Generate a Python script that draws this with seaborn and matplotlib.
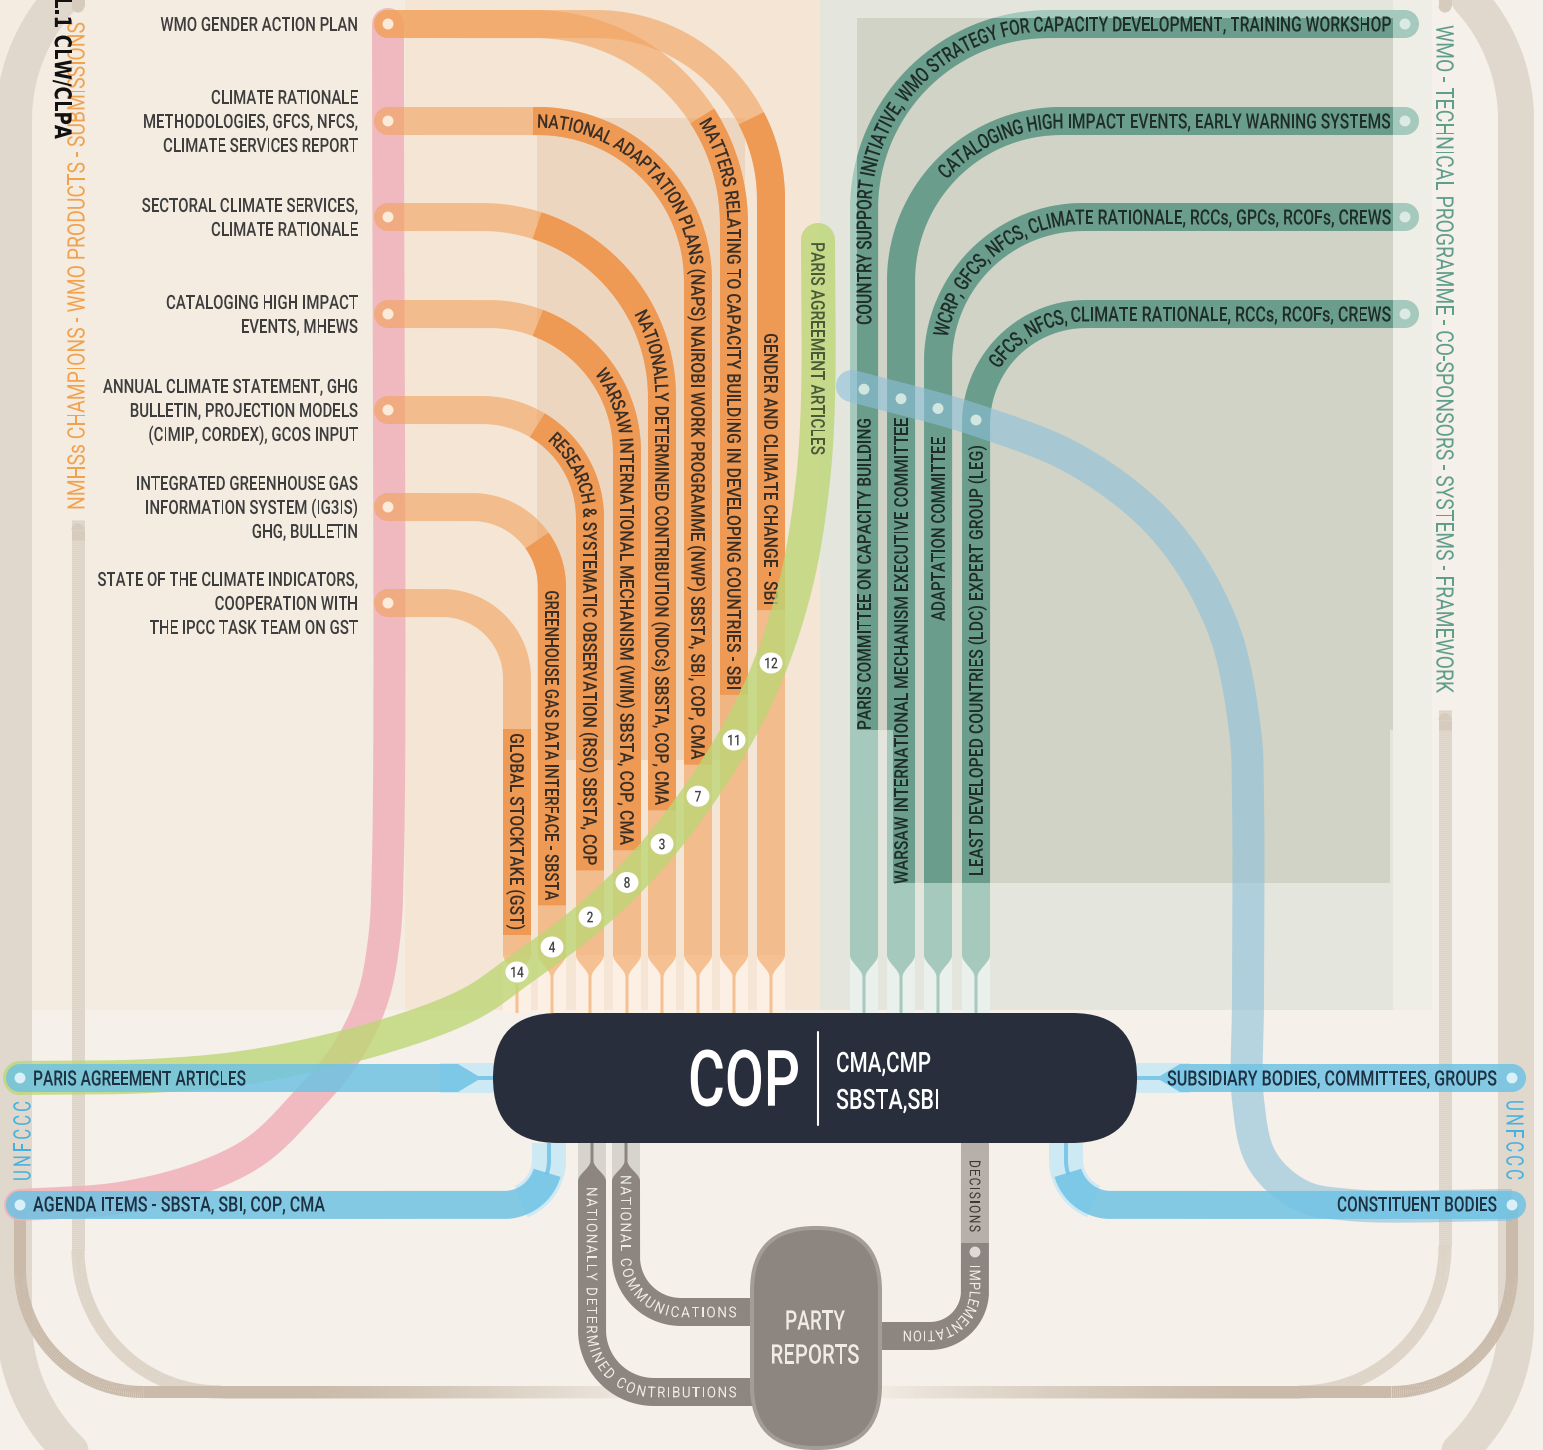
import numpy as np
import pandas as pd
import seaborn as sns
import matplotlib
matplotlib.use("Agg")
import matplotlib.pyplot as plt
from matplotlib.textpath import TextPath
from matplotlib.font_manager import FontProperties, findfont, get_font
from matplotlib.patches import PathPatch, Rectangle, FancyBboxPatch, Ellipse, Polygon, Wedge
from matplotlib.path import Path
from matplotlib.transforms import Affine2D
from matplotlib.collections import LineCollection
from matplotlib.colors import to_rgba

# ---------------- chart content ----------------
wmo_products = [
    "WMO GENDER ACTION PLAN",
    "CLIMATE RATIONALE\nMETHODOLOGIES, GFCS, NFCS,\nCLIMATE SERVICES REPORT",
    "SECTORAL CLIMATE SERVICES,\nCLIMATE RATIONALE",
    "CATALOGING HIGH IMPACT\nEVENTS, MHEWS",
    "ANNUAL CLIMATE STATEMENT, GHG\nBULLETIN, PROJECTION MODELS\n(CIMIP, CORDEX), GCOS INPUT",
    "INTEGRATED GREENHOUSE GAS\nINFORMATION SYSTEM (IG3IS)\nGHG, BULLETIN",
    "STATE OF THE CLIMATE INDICATORS,\nCOOPERATION WITH\nTHE IPCC TASK TEAM ON GST",
]
agenda_items = [
    "GLOBAL STOCKTAKE (GST)",
    "GREENHOUSE GAS DATA INTERFACE - SBSTA",
    "RESEARCH & SYSTEMATIC OBSERVATION (RSO) SBSTA, COP",
    "WARSAW INTERNATIONAL MECHANISM (WIM) SBSTA, COP, CMA",
    "NATIONALLY DETERMINED CONTRIBUTION (NDCs) SBSTA, COP, CMA",
    "NATIONAL ADAPTATION PLANS (NAPS) NAIROBI WORK PROGRAMME (NWP) SBSTA, SBI, COP, CMA",
    "MATTERS RELATING TO CAPACITY BUILDING IN DEVELOPING COUNTRIES - SBI",
    "GENDER AND CLIMATE CHANGE - SBI",
]
paris_articles = ["14", "4", "2", "8", "3", "7", "11", "12"]
agenda_source = [6, 5, 4, 3, 2, 1, 0, 0]   # which WMO product feeds each agenda item
tech_programmes = [
    "COUNTRY SUPPORT INITIATIVE, WMO STRATEGY FOR CAPACITY DEVELOPMENT, TRAINING WORKSHOP",
    "CATALOGING HIGH IMPACT EVENTS, EARLY WARNING SYSTEMS",
    "WCRP, GFCS, NFCS, CLIMATE RATIONALE, RCCs, GPCs, RCOFs, CREWS",
    "GFCS, NFCS, CLIMATE RATIONALE, RCCs, RCOFs, CREWS",
]
constituent_bodies = [
    "PARIS COMMITTEE ON CAPACITY BUILDING",
    "WARSAW INTERNATIONAL MECHANISM EXECUTIVE COMMITTEE",
    "ADAPTATION COMMITTEE",
    "LEAST DEVELOPED COUNTRIES (LDC) EXPERT GROUP (LEG)",
]
unfccc_links = ["PARIS AGREEMENT ARTICLES", "AGENDA ITEMS - SBSTA, SBI, COP, CMA",
                "SUBSIDIARY BODIES, COMMITTEES, GROUPS", "CONSTITUENT BODIES"]
cop_title = "COP"
cop_bodies = ["CMA,CMP", "SBSTA,SBI"]
party_title = ["PARTY", "REPORTS"]
party_flows = ["NATIONALLY DETERMINED CONTRIBUTIONS", "NATIONAL COMMUNICATIONS",
               "DECISIONS", "IMPLEMENTATION"]
side_titles = ["NMHSs CHAMPIONS - WMO PRODUCTS - SUBMISSIONS",
               "WMO - TECHNICAL PROGRAMME - CO-SPONSORS - SYSTEMS - FRAMEWORK",
               "UNFCCC", "L.1 CLW/CLPA"]

# ---------------- layout (pixels) ----------------
W, H = 1543, 1450
PT = 72 / 100          # points per pixel at dpi 100
SRC_X = 388
SRC_Y = [24, 121, 217, 314, 410, 507, 603]
COL_X = [517, 552, 590, 627, 662, 698, 734, 771]
COL_R = [75, 80, 108, 138, 180, 160, 200, 175]
LBL_START = [(517, 733), (552, 590), (552, 436), (600, 370), (647, 307), (537, 118),
             (703, 120), (771, 333)]
LBL_END = [930, 900, 865, 845, 805, 760, 690, 605]
TEAL_X = [864, 901, 938, 976]
TEAL_Y = [24, 121, 217, 314]
TEAL_R = [185, 160, 145, 110]
TEAL_START = [(867, 325), (949, 182), (943, 337), (1003, 372)]
TEAL_LBL = [(730, 418), (884, 418), (621, 437), (876, 445)]
BAND_END = 955
COP_TOP, COP_BOT = 1013, 1143

ORANGE, ORANGE_DK = "#f2a25c", "#ee9a55"
TEAL_LT, TEAL_DK = "#a6c9bd", "#6b9d8c"
BLUE, BLUE_LT = "#6fc3e4", "#cde9f4"
GRAY, GRAY_LT = "#8d8680", "#d7d3cd"

sns.set_theme(style="white")
FP_MED = FontProperties(family=["Roboto", "DejaVu Sans"], weight="medium")
FP_REG = FontProperties(family=["Roboto", "DejaVu Sans"], weight="regular")
FP_BLK = FontProperties(family=["DejaVu Sans", "Roboto"], weight="bold")
CAPC = 0.355

fig = plt.figure(figsize=(W / 100, H / 100), dpi=100)
fig.patch.set_facecolor("#f5f0e9")
ax = fig.add_axes([0, 0, 1, 1])
ax.set_facecolor("#f5f0e9")


# ---------------- helpers ----------------
def elbow_h(x0, y0, x1, y1, r, n=60):
    sx_, sy_ = np.sign(x1 - x0), np.sign(y1 - y0)
    cx, cy = x1 - sx_ * r, y0 + sy_ * r
    t = np.linspace(0, np.pi / 2, n)
    arc = np.column_stack([cx + sx_ * r * np.sin(t), cy - sy_ * r * np.cos(t)])
    return np.vstack([[x0, y0], arc, [x1, y1]])


def elbow_v(x0, y0, x1, y1, r, n=60):
    sx_, sy_ = np.sign(x1 - x0), np.sign(y1 - y0)
    cx, cy = x0 + sx_ * r, y1 - sy_ * r
    t = np.linspace(0, np.pi / 2, n)
    arc = np.column_stack([cx - sx_ * r * np.cos(t), cy + sy_ * r * np.sin(t)])
    return np.vstack([[x0, y0], arc, [x1, y1]])


def round_rect(x0, y0, x1, y1, r, n=60):
    def arc(cx, cy, a0, a1):
        t = np.radians(np.linspace(a0, a1, n))
        return np.column_stack([cx + r * np.cos(t), cy + r * np.sin(t)])
    return np.vstack([arc(x0 + r, y1 - r, 180, 90), arc(x1 - r, y1 - r, 90, 0),
                      arc(x1 - r, y0 + r, 0, -90), arc(x0 + r, y0 + r, -90, -180),
                      [[x0, y1 - r]]])


def catmull(pts, n=24):
    P = np.array(pts, float)
    P = np.vstack([2 * P[0] - P[1], P, 2 * P[-1] - P[-2]])
    out = []
    for i in range(1, len(P) - 2):
        p0, p1, p2, p3 = P[i - 1:i + 3]
        t0 = 0
        t1 = t0 + np.linalg.norm(p1 - p0) ** 0.5
        t2 = t1 + np.linalg.norm(p2 - p1) ** 0.5
        t3 = t2 + np.linalg.norm(p3 - p2) ** 0.5
        t = np.linspace(t1, t2, n, endpoint=False)[:, None]
        A1 = (t1 - t) / (t1 - t0) * p0 + (t - t0) / (t1 - t0) * p1
        A2 = (t2 - t) / (t2 - t1) * p1 + (t - t1) / (t2 - t1) * p2
        A3 = (t3 - t) / (t3 - t2) * p2 + (t - t2) / (t3 - t2) * p3
        B1 = (t2 - t) / (t2 - t0) * A1 + (t - t0) / (t2 - t0) * A2
        B2 = (t3 - t) / (t3 - t1) * A2 + (t - t1) / (t3 - t1) * A3
        out.append((t2 - t) / (t2 - t1) * B1 + (t - t1) / (t2 - t1) * B2)
    out.append(P[-2][None])
    return np.vstack(out)


def arclen(p):
    return np.concatenate([[0], np.cumsum(np.hypot(*np.diff(p, axis=0).T))])


def dense(p, step=1.0):
    p = np.asarray(p, float)
    keep = np.r_[True, np.hypot(*np.diff(p, axis=0).T) > 1e-9]
    p = p[keep]
    s = arclen(p)
    ss = np.append(np.arange(0, s[-1], step), s[-1])
    return np.column_stack([np.interp(ss, s, p[:, 0]), np.interp(ss, s, p[:, 1])])


def s_near(p, pt):
    return arclen(p)[np.argmin(np.hypot(p[:, 0] - pt[0], p[:, 1] - pt[1]))]


def sub(p, s0, s1):
    s = arclen(p)
    m = (s > s0) & (s < s1)
    a = [np.interp(s0, s, p[:, 0]), np.interp(s0, s, p[:, 1])]
    b = [np.interp(s1, s, p[:, 0]), np.interp(s1, s, p[:, 1])]
    return np.vstack([a, p[m], b])


def band(p, color, w, alpha=1.0, z=3, caps=("butt", "butt"), clip=None):
    ln, = ax.plot(p[:, 0], p[:, 1], color=color, lw=w * PT, alpha=alpha, zorder=z,
                  solid_capstyle="butt", solid_joinstyle="round")
    if clip is not None:
        ln.set_clip_path(clip)
    for k, cap in enumerate(caps):
        if cap != "round":
            continue
        a, b = (p[0], p[2]) if k == 0 else (p[-1], p[-3])
        ang = np.degrees(np.arctan2(a[1] - b[1], a[0] - b[0]))
        wd = Wedge(a, w / 2, ang - 90, ang + 90, fc=color, ec="none", lw=0, alpha=alpha, zorder=z)
        if clip is not None:
            wd.set_clip_path(clip)
        ax.add_patch(wd)


def advances(text, fp):
    font = get_font(findfont(fp))
    font.set_size(100, 72)
    return np.array([font.load_char(ord(c)).linearHoriAdvance / 65536 / 100 for c in text])


def path_text(p, text, size, color, fp=FP_MED, start=None, end=None, sx=0.72,
              track=0.0, z=6, alpha=1.0):
    p = dense(p)
    s = arclen(p)
    a = advances(text, fp) * size
    n = len(text)
    if start is not None and end is not None:
        sx = (end - start - track * (n - 1)) / a.sum()
    total = a.sum() * sx + track * (n - 1)
    if start is None:
        start = end - total
    pos = start
    for ch, ai in zip(text, a):
        w = ai * sx
        c = pos + w / 2
        if ch != " ":
            x, y = np.interp(c, s, p[:, 0]), np.interp(c, s, p[:, 1])
            xa, ya = np.interp(c - 2, s, p[:, 0]), np.interp(c - 2, s, p[:, 1])
            xb, yb = np.interp(c + 2, s, p[:, 0]), np.interp(c + 2, s, p[:, 1])
            ang = np.arctan2(yb - ya, xb - xa)
            tp = TextPath((0, 0), ch, size=size, prop=fp)
            tr = (Affine2D().translate(-ai / 2, -CAPC * size).scale(sx, -1)
                  .rotate(ang).translate(x, y))
            ax.add_patch(PathPatch(tr.transform_path(tp), fc=color, ec="none", lw=0,
                                   zorder=z, alpha=alpha))
        pos += w + track
    return start, start + total


def stext(text, x, y, size, color, fp=FP_MED, ang=0, ha="left", sx=0.72, width=None,
          track=0.0, z=10):
    d = np.array([np.cos(np.radians(ang)), np.sin(np.radians(ang))])
    L = 1500.0
    p = np.array([np.array([x, y]) - d * L, np.array([x, y]) + d * L])
    if width is not None:
        st = {"left": L, "right": L - width, "center": L - width / 2}[ha]
        return path_text(p, text, size, color, fp, start=st, end=st + width, track=track, z=z)
    a = advances(text, fp) * size
    total = a.sum() * sx + track * (len(text) - 1)
    st = {"left": L, "right": L - total, "center": L - total / 2}[ha]
    return path_text(p, text, size, color, fp, start=st, sx=sx, track=track, z=z)


def rect(x0, y0, x1, y1, color, z=0, alpha=1.0):
    ax.add_patch(Rectangle((x0, y0), x1 - x0, y1 - y0, fc=color, ec="none", lw=0,
                           zorder=z, alpha=alpha))


def fade_line(p, color, w, x_full, x_zero, z=2):
    p = dense(p, 2)
    segs = np.stack([p[:-1], p[1:]], axis=1)
    xm = (p[:-1, 0] + p[1:, 0]) / 2
    al = np.clip((xm - x_zero) / (x_full - x_zero), 0, 1)
    ax.add_collection(LineCollection(segs, colors=[to_rgba(color, v) for v in al],
                                     linewidths=w * PT, capstyle="butt", zorder=z))


def taper(x, y_full, y_stem, color, alpha, z, w=28, L=22):
    # funnel from a full band width at y_full into a thin stem ending at y_stem
    t = np.linspace(0, 1, 24)
    hw = 1.5 + (w / 2 - 1.5) * (1 - (3 * t ** 2 - 2 * t ** 3))
    yy = y_full + np.sign(y_stem - y_full) * L * t
    left = np.column_stack([x - hw, yy])
    right = np.column_stack([x + hw, yy])[::-1]
    poly = np.vstack([left, [[x - 1.5, y_stem], [x + 1.5, y_stem]], right])
    ax.add_patch(Polygon(poly, closed=True, fc=color, ec="none", lw=0, alpha=alpha, zorder=z))


# ---------------- backgrounds ----------------
rect(0, 0, 405, 1010, "#f5ece1")
rect(405, 0, 820, 1010, "#f4e5d4")
rect(537, 118, 745, 760, "#ecd6bf")
rect(820, 0, 1393, 1010, "#e4e6de")
rect(1393, 0, 1432, 1010, "#eeede6")
union = Path([(857, 18), (1393, 18), (1393, 730), (1390, 730), (1390, 883), (893, 883),
              (893, 730), (857, 730), (857, 18)], closed=True)
teal_zone = PathPatch(union, fc="#d0d3c5", ec="none", lw=0, zorder=0, transform=ax.transData)
ax.add_patch(teal_zone)
for cx in COL_X:
    rect(cx - 14, BAND_END, cx + 14, COP_TOP, "#fcf0e4", z=0.5)
for cx in TEAL_X:
    rect(cx - 14, BAND_END, cx + 14, COP_TOP, "#eaf0ec", z=0.5)

# outer frame
frame = round_rect(14, -60, 1516, 1500, 180)
ax.plot(frame[:, 0], frame[:, 1], color="#e0d8cd", lw=36 * PT, zorder=1, solid_joinstyle="round")
# inner frame lines
fade_line(elbow_v(78, 520, 700, 1392, 142), "#ddd3c6", 13, 300, 660)
fade_line(elbow_v(20, 1205, 700, 1392, 123), "#c9baa9", 12, 300, 660)
fade_line(elbow_v(1445, 710, 800, 1392, 145), "#ddd3c6", 13, 1250, 860)
fade_line(elbow_v(1512, 1205, 800, 1392, 120), "#c9baa9", 12, 1250, 860)
for xx in (78, 1445):
    band(dense([(xx, -10), (xx, 6)]), "#d6cbbd", 13, z=2, caps=("butt", "round"))
band(dense([(78, 530), (78, 540)]), "#d6cbbd", 13, z=2, caps=("round", "butt"))
band(dense([(1445, 720), (1445, 730)]), "#d6cbbd", 13, z=2, caps=("round", "butt"))

# ---------------- pink flow ----------------
pink = dense(catmull([(SRC_X, 24), (388, 860), (384, 940), (372, 1000), (345, 1055),
                      (308, 1100), (257, 1150), (200, 1178), (120, 1198), (20, 1205)]))
band(pink, "#f0b1b9", 32, alpha=0.85, z=3, caps=("round", "round"))

# ---------------- orange agenda flows ----------------
for i, cx in enumerate(COL_X):
    y0 = SRC_Y[agenda_source[i]]
    p = dense(elbow_h(SRC_X, y0, cx, BAND_END, COL_R[i]))
    band(p, ORANGE, 28, alpha=0.6, z=4, caps=("round", "butt"))
    taper(cx, BAND_END, COP_TOP, ORANGE, 0.6, 4)
    s_all = arclen(p)
    on_col = np.abs(p[:, 0] - cx) < 0.5
    s_end = s_all[np.argmin(np.abs(p[:, 1] - LBL_END[i]) + 1e4 * ~on_col)]
    s_lab0 = s_near(p, LBL_START[i])
    inside = np.where((p[:, 0] >= 537) & (p[:, 1] >= 118))[0]
    s_dk0 = s_all[inside[0]] if len(inside) else s_lab0 - 4
    band(sub(p, min(s_dk0, s_lab0 - 4), s_end + 5), ORANGE_DK, 28, z=5)
    path_text(p, agenda_items[i], 19, "#3a2e25", FP_MED, start=s_lab0, end=s_end, z=6)

# ---------------- teal programme flows ----------------
for j, cx in enumerate(TEAL_X):
    p = dense(elbow_v(cx, BAND_END, 1405, TEAL_Y[j], TEAL_R[j]))
    band(p, TEAL_LT, 28, z=4, caps=("butt", "round"))
    band(p, TEAL_DK, 28, z=5, clip=teal_zone)
    taper(cx, BAND_END, COP_TOP, TEAL_LT, 1.0, 4)
    on_row = np.abs(p[:, 1] - TEAL_Y[j]) < 0.5
    s_end = arclen(p)[np.argmin(np.abs(p[:, 0] - 1391) + 1e4 * ~on_row)]
    path_text(p, tech_programmes[j], 21, "#1f2d29", FP_MED, start=s_near(p, TEAL_START[j]),
              end=s_end, z=6)
    y_a, y_b = TEAL_LBL[j]
    stext(constituent_bodies[j], cx, y_a, 19, "#1f2d29", FP_MED, ang=-90, ha="left",
          width=y_a - y_b, z=6)

# ---------------- green Paris Agreement flow ----------------
green = dense(catmull([(20, 1078), (150, 1076), (255, 1066), (382, 1037), (470, 1004),
                       (517, 972), (590, 917), (662, 844), (734, 740), (771, 663),
                       (798, 575), (813, 480), (818, 400), (818, 240)]))
band(green, "#bed676", 34, alpha=0.8, z=7, caps=("round", "round"))
stext(unfccc_links[0], 818, 242, 19, "#4a5a38", FP_MED, ang=90, ha="left", width=213, z=7.5)
mono = green[:, 0] < 812
for cx, num in zip(COL_X, paris_articles):
    cy = np.interp(cx, green[mono, 0], green[mono, 1])
    ax.add_patch(Ellipse((cx, cy), 23, 21, fc="white", ec="none", zorder=8))
    stext(num, cx, cy, 15, "#444444", FP_MED, ha="center", sx=0.8, z=8.5)

# ---------------- blue constituent flow ----------------
blue = dense(catmull([(852, 386), (976, 420), (1080, 462), (1165, 530), (1222, 625),
                      (1245, 730), (1248, 800), (1248, 1000), (1248, 1100), (1262, 1160),
                      (1300, 1195), (1350, 1205), (1512, 1205)]))
band(blue, "#8dc0db", 32, alpha=0.6, z=8, caps=("round", "butt"))
bmono = blue[:, 0] < 1240

# ---------------- UNFCCC link bars ----------------
rect(440, 1063, 500, 1093, BLUE_LT, z=9)
band(dense([(20, 1078), (458, 1078)]), BLUE, 28, alpha=0.85, z=10, caps=("round", "butt"))
ax.add_patch(Polygon([(458, 1064), (458, 1092), (478, 1080), (500, 1080), (500, 1076), (478, 1076)],
                     fc=BLUE, ec="none", alpha=0.85, zorder=10))
rect(1130, 1063, 1190, 1093, BLUE_LT, z=9)
band(dense([(1180, 1078), (1512, 1078)]), BLUE, 28, alpha=0.85, z=10, caps=("butt", "round"))
ax.add_patch(Polygon([(1180, 1064), (1180, 1092), (1160, 1080), (1135, 1080), (1135, 1076), (1160, 1076)],
                     fc=BLUE, ec="none", alpha=0.85, zorder=10))
for x0, x1 in ((20, 549), (1512, 1066)):
    p = dense(elbow_h(x0, 1205, x1, COP_BOT, 45))
    band(sub(p, arclen(p)[-1] - 70, arclen(p)[-1]), BLUE_LT, 34, z=9)
    band(sub(p, 0, arclen(p)[-1] - 30), BLUE, 28, alpha=0.85, z=10, caps=("round", "butt"))
    band(sub(p, arclen(p)[-1] - 32, arclen(p)[-1]), BLUE, 4, alpha=0.85, z=10)
stext(unfccc_links[0], 33, 1078, 21, "#1d3142", FP_MED, ha="left", width=213, z=11)
stext(unfccc_links[1], 33, 1204, 21, "#1d3142", FP_MED, ha="left", width=292, z=11)
stext(unfccc_links[2], 1497, 1078, 21, "#1d3142", FP_MED, ha="right", width=330, z=11)
stext(unfccc_links[3], 1497, 1204, 21, "#1d3142", FP_MED, ha="right", width=160, z=11)

# ---------------- COP and party reports ----------------
ax.add_patch(FancyBboxPatch((493, COP_TOP), 644, COP_BOT - COP_TOP,
                            boxstyle="round,pad=0,rounding_size=65", fc="#282e3c", ec="none", zorder=12))
stext(cop_title, 744, 1078, 78, "white", FP_MED, ha="center", width=112, z=13)
ax.plot([818, 818], [1032, 1125], color="white", lw=1.5, zorder=13)
stext(cop_bodies[0], 836, 1062, 28, "white", FP_MED, ha="left", width=95, z=13)
stext(cop_bodies[1], 836, 1099, 28, "white", FP_MED, ha="left", width=104, z=13)

flow_specs = [((592, 1392, 62), (592, 1187), (737, 1392)),
              ((626, 1312, 55), (627, 1175), (737, 1313))]
for k, ((fx, fy, fr), t0, t1) in enumerate(flow_specs):
    p = dense(elbow_v(fx, COP_BOT, 765, fy, fr))
    rect(fx - 14, COP_BOT, fx + 14, COP_BOT + 38, GRAY_LT, z=11)
    taper(fx, COP_BOT + 38, COP_BOT, GRAY, 1.0, 11.2, L=20)
    band(sub(p, 38, arclen(p)[-1]), GRAY, 28, z=11.2)
    path_text(p, party_flows[k], 15, "#efebe5", FP_REG, start=s_near(p, t0), end=s_near(p, t1),
              track=1.5, z=11.5)

dec = dense(elbow_v(975, COP_BOT, 870, 1336, 45))
band(dec, GRAY, 28, z=11.2)
band(sub(dec, 0, 100), "#b7b0a8", 28, z=11.3)
stext(party_flows[2], 975, 1160, 15, "#3b3835", FP_REG, ang=90, ha="left", width=72, track=1.5, z=11.5)
path_text(dec, party_flows[3], 15, "#efebe5", FP_REG, start=s_near(dec, (975, 1265)),
          end=s_near(dec, (903, 1338)), track=1.0, z=11.5)

ax.add_patch(FancyBboxPatch((752, 1228), 128, 220, boxstyle="round,pad=0,rounding_size=63",
                            fc="#8d8680", ec="#a39d97", lw=4 * PT, zorder=12))
stext(party_title[0], 815, 1320, 27, "#efebe5", FP_MED, ha="center", width=60, z=13)
stext(party_title[1], 815, 1354, 27, "#efebe5", FP_MED, ha="center", width=89, z=13)

# ---------------- left labels ----------------
for y0, lab in zip(SRC_Y, wmo_products):
    lines = lab.split("\n")
    for k, line in enumerate(lines):
        yy = y0 + (k - (len(lines) - 1) / 2) * 24
        stext(line, 358, yy, 19.5, "#3d3d3d", FP_MED, ha="right", sx=0.77, z=10)

# ---------------- side titles ----------------
stext(side_titles[0], 76, 510, 24, "#f0a24f", FP_REG, ang=-90, ha="left", width=488, z=10)
stext(side_titles[1], 1445, 25, 24, "#5f9e8c", FP_REG, ang=90, ha="left", width=668, z=10)
stext(side_titles[2], 22, 1181, 24, "#45b1e0", FP_REG, ang=-90, ha="left", width=80, track=3, z=10)
stext(side_titles[2], 1515, 1100, 24, "#45b1e0", FP_REG, ang=90, ha="left", width=80, track=3, z=10)
stext(side_titles[3], 63, -3, 23, "#111111", FP_BLK, ang=90, ha="left", width=142, z=10)

# ---------------- connection dots ----------------
dots = pd.DataFrame({
    "x": [SRC_X] * len(SRC_Y) + [1405] * len(TEAL_Y) + TEAL_X + [20, 20, 1512, 1512, 975],
    "y": SRC_Y + TEAL_Y + [float(np.interp(x, blue[bmono, 0], blue[bmono, 1])) for x in TEAL_X]
         + [1078, 1205, 1078, 1205, 1252],
    "kind": ["wmo"] * len(SRC_Y) + ["tech"] * len(TEAL_Y) + ["body"] * len(TEAL_X)
            + ["unfccc"] * 4 + ["party"],
})
sns.scatterplot(data=dots, x="x", y="y", hue="kind", ax=ax, s=62, linewidth=0, legend=False,
                palette={"wmo": "#fdebd9", "tech": "#dbeae5", "body": "#d2e6e0",
                         "unfccc": "#d9f0f8", "party": "#dedad5"}, zorder=14)

ax.set_xlim(0, W)
ax.set_ylim(H, 0)
ax.set_aspect("auto")
ax.axis("off")
fig.savefig("out.png", dpi=100, facecolor=fig.get_facecolor())
